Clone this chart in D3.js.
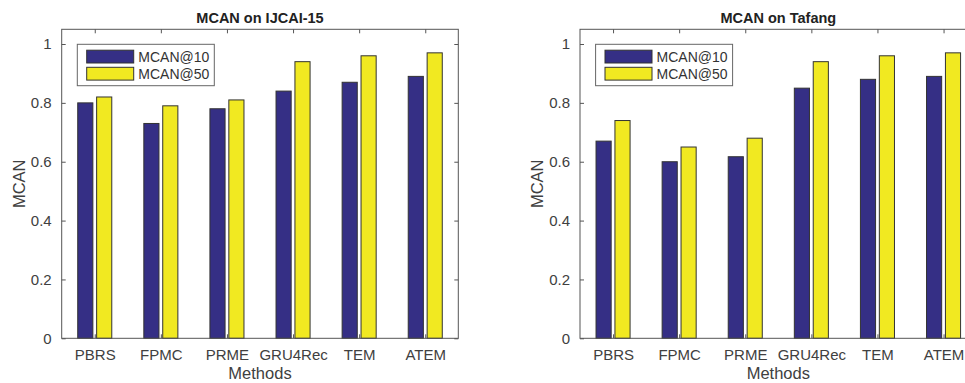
<!DOCTYPE html>
<html>
<head>
<meta charset="utf-8">
<script src="https://cdn.jsdelivr.net/npm/d3@7"></script>
<style>
html,body{margin:0;padding:0;background:#fff;overflow:hidden;}
svg{display:block;font-family:"Liberation Sans",Arial,Helvetica,sans-serif;}
</style>
</head>
<body>
<svg id="chart" width="965" height="383"></svg>
<script>
const methods = ["PBRS","FPMC","PRME","GRU4Rec","TEM","ATEM"];
const seriesNames = ["MCAN@10","MCAN@50"];
const ijcaiAt10 = [0.80,0.73,0.78,0.84,0.87,0.89];
const ijcaiAt50 = [0.82,0.79,0.81,0.94,0.96,0.97];
const tafangAt10 = [0.67,0.60,0.617,0.85,0.88,0.89];
const tafangAt50 = [0.74,0.65,0.68,0.94,0.96,0.97];
const yTicks = [0,0.2,0.4,0.6,0.8,1];
const yTickLabels = ["0","0.2","0.4","0.6","0.8","1"];
const colors = ["#352f85","#f1e921"];

const svg = d3.select("#chart");
const axisColor = "#555";
const textColor = "#404040";

function panel(left, title, s10, s50){
  const top = 29.3, bottom = 338.3, width = 396.6;
  const x = d3.scaleLinear().domain([0.5, 6.5]).range([left, left + width]);
  const y = d3.scaleLinear().domain([0, 1.05]).range([bottom, top]);
  const g = svg.append("g");
  const series = [s10, s50];
  const offsets = [-0.143, 0.143];
  const bw = 0.229;
  series.forEach((vals, si) => {
    g.selectAll(null).data(vals).enter().append("rect")
      .attr("x", (d,i) => x(i + 1 + offsets[si] - bw/2))
      .attr("width", (d) => x(1 + bw) - x(1))
      .attr("y", d => y(d))
      .attr("height", d => y(0) - y(d))
      .attr("fill", colors[si])
      .attr("stroke", "#333")
      .attr("stroke-width", 1);
  });
  // box
  g.append("rect").attr("x", left).attr("y", top).attr("width", width).attr("height", bottom - top)
    .attr("fill","none").attr("stroke", axisColor).attr("stroke-width",1);
  const tickVals = methods.map((m,i)=>i+1);
  const xAxisB = d3.axisBottom(x).tickValues(tickVals).tickFormat((d)=>methods[d-1]).tickSizeInner(-4).tickSizeOuter(0).tickPadding(11);
  const gx = g.append("g").attr("transform",`translate(0,${bottom})`).call(xAxisB);
  const xAxisT = d3.axisTop(x).tickValues(tickVals).tickFormat("").tickSizeInner(-4).tickSizeOuter(0);
  const gxt = g.append("g").attr("transform",`translate(0,${top})`).call(xAxisT);
  const yAxisL = d3.axisLeft(y).tickValues(yTicks).tickFormat((d,i)=>yTickLabels[i]).tickSizeInner(-4).tickSizeOuter(0).tickPadding(10);
  const gy = g.append("g").attr("transform",`translate(${left},0)`).call(yAxisL);
  const yAxisR = d3.axisRight(y).tickValues(yTicks).tickFormat("").tickSizeInner(-4).tickSizeOuter(0);
  const gyr = g.append("g").attr("transform",`translate(${left+width},0)`).call(yAxisR);
  [gx,gxt,gy,gyr].forEach(a=>{
    a.select(".domain").remove();
    a.selectAll(".tick line").attr("stroke", axisColor);
    a.selectAll(".tick text").attr("fill", textColor).style("font-size","15px").style("font-family","Liberation Sans, Arial, sans-serif");
  });
  g.append("text").attr("x", left + width/2).attr("y", 22.5).attr("text-anchor","middle")
    .style("font-size","14.5px").style("font-weight","bold").attr("fill","#222").text(title);
  g.append("text").attr("x", left + width/2).attr("y", 378.5).attr("text-anchor","middle")
    .style("font-size","16.5px").attr("fill", textColor).text("Methods");
  g.append("text").attr("transform",`translate(${left-37},${(top+bottom)/2}) rotate(-90)`).attr("text-anchor","middle")
    .style("font-size","16.5px").attr("fill", textColor).text("MCAN");
  const lx = left + 15.6, ly = 44.3;
  const lg = g.append("g");
  lg.append("rect").attr("x", lx).attr("y", ly).attr("width", 137).attr("height", 41.4)
    .attr("fill","#fff").attr("stroke","#666").attr("stroke-width",1);
  seriesNames.forEach((n, i) => {
    const sy = ly + 5.9 + i*17.1;
    lg.append("rect").attr("x", lx + 9.4).attr("y", sy).attr("width", 47).attr("height", 12.8)
      .attr("fill", colors[i]).attr("stroke","#333").attr("stroke-width",1);
    lg.append("text").attr("x", lx + 61).attr("y", sy + 11.5)
      .style("font-size","14px").attr("fill","#333").text(n);
  });
}

panel(61.7, "MCAN on IJCAI-15", ijcaiAt10, ijcaiAt50);
panel(580, "MCAN on Tafang", tafangAt10, tafangAt50);
</script>
</body>
</html>
